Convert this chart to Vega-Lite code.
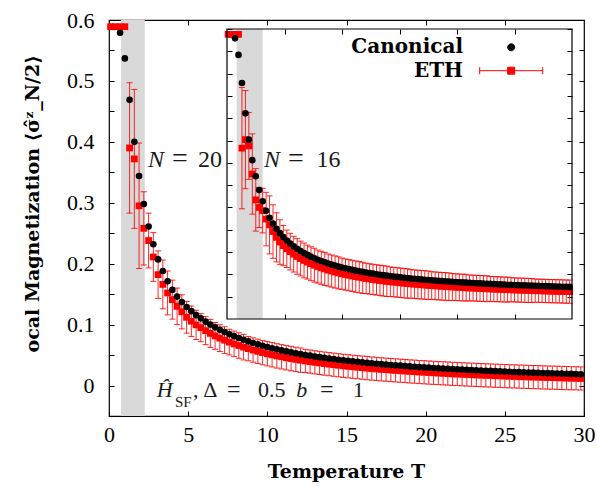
{
"$schema":"https://vega.github.io/schema/vega-lite/v6.json",
"width":475,"height":396,
"autosize":{"type":"none"},
"padding":{"left":109,"top":20,"right":13,"bottom":71},
"background":"white",
"config":{
 "font":"Liberation Serif, serif",
 "view":{"stroke":"black","strokeWidth":1.2},
 "axis":{"grid":false,"domain":false,"tickColor":"black","tickSize":-5,"tickWidth":1,"labelFont":"Liberation Serif, serif","titleFont":"DejaVu Serif, serif","labelFontSize":22,"labelColor":"black","titleColor":"black","labelFlush":false},
 "legend":{"labelFont":"DejaVu Serif, serif"},
 "text":{"font":"Liberation Serif","color":"#1a1a1a","baseline":"alphabetic"}
},
"datasets":{
"n20":[
{"T":0.1,"c":null,"e":0.589,"h":0},{"T":0.4,"c":null,"e":0.589,"h":0},{"T":0.7,"c":0.579,"e":0.589,"h":0},{"T":1.0,"c":0.537,"e":0.589,"h":0},
{"T":1.3,"c":0.469,"e":0.39,"h":0.107},{"T":1.6,"c":0.4,"e":0.372,"h":0.114},{"T":1.9,"c":0.344,"e":0.295,"h":0.103},{"T":2.2,"c":0.298,"e":0.258,"h":0.06},
{"T":2.5,"c":0.261,"e":0.238,"h":0.045},{"T":2.8,"c":0.232,"e":0.211,"h":0.04},{"T":3.1,"c":0.207,"e":0.182,"h":0.039},{"T":3.4,"c":0.188,"e":0.166,"h":0.04},
{"T":3.7,"c":0.171,"e":0.152,"h":0.036},{"T":4.0,"c":0.157,"e":0.141,"h":0.032},{"T":4.3,"c":0.146,"e":0.13,"h":0.03},{"T":4.6,"c":0.137,"e":0.121,"h":0.028},
{"T":4.9,"c":0.129,"e":0.112,"h":0.026},{"T":5.2,"c":0.1221,"e":0.1056,"h":0.025},{"T":5.5,"c":0.1155,"e":0.0996,"h":0.024},{"T":5.8,"c":0.1103,"e":0.095,"h":0.023},
{"T":6.1,"c":0.1049,"e":0.0901,"h":0.023},{"T":6.4,"c":0.1,"e":0.0856,"h":0.023},{"T":6.7,"c":0.0955,"e":0.0815,"h":0.022},{"T":7.0,"c":0.0914,"e":0.0778,"h":0.022},
{"T":7.3,"c":0.0877,"e":0.0745,"h":0.022},{"T":7.6,"c":0.0842,"e":0.0713,"h":0.021},{"T":7.9,"c":0.081,"e":0.0684,"h":0.021},{"T":8.2,"c":0.078,"e":0.0657,"h":0.021},
{"T":8.5,"c":0.0751,"e":0.063,"h":0.021},{"T":8.8,"c":0.0724,"e":0.0606,"h":0.02},{"T":9.1,"c":0.0699,"e":0.0583,"h":0.02},{"T":9.4,"c":0.0675,"e":0.0561,"h":0.02},
{"T":9.7,"c":0.0653,"e":0.0541,"h":0.02},{"T":10.0,"c":0.0632,"e":0.0522,"h":0.02},{"T":10.3,"c":0.0613,"e":0.0505,"h":0.02},{"T":10.6,"c":0.0594,"e":0.0487,"h":0.02},
{"T":10.9,"c":0.0577,"e":0.0472,"h":0.02},{"T":11.2,"c":0.056,"e":0.0456,"h":0.02},{"T":11.5,"c":0.0545,"e":0.0443,"h":0.02},{"T":11.8,"c":0.053,"e":0.0429,"h":0.02},
{"T":12.1,"c":0.0516,"e":0.0416,"h":0.02},{"T":12.4,"c":0.0502,"e":0.0404,"h":0.019},{"T":12.7,"c":0.049,"e":0.0393,"h":0.019},{"T":13.0,"c":0.0477,"e":0.0381,"h":0.019},
{"T":13.3,"c":0.0466,"e":0.0371,"h":0.019},{"T":13.6,"c":0.0454,"e":0.036,"h":0.019},{"T":13.9,"c":0.0444,"e":0.0351,"h":0.019},{"T":14.2,"c":0.0434,"e":0.0342,"h":0.019},
{"T":14.5,"c":0.0424,"e":0.0333,"h":0.019},{"T":14.8,"c":0.0415,"e":0.0324,"h":0.019},{"T":15.1,"c":0.0406,"e":0.0316,"h":0.019},{"T":15.4,"c":0.0397,"e":0.0308,"h":0.019},
{"T":15.7,"c":0.0389,"e":0.0301,"h":0.019},{"T":16.0,"c":0.0381,"e":0.0293,"h":0.019},{"T":16.3,"c":0.0373,"e":0.0286,"h":0.019},{"T":16.6,"c":0.0365,"e":0.0279,"h":0.019},
{"T":16.9,"c":0.0358,"e":0.0272,"h":0.019},{"T":17.2,"c":0.0351,"e":0.0266,"h":0.019},{"T":17.5,"c":0.0345,"e":0.0261,"h":0.019},{"T":17.8,"c":0.0338,"e":0.0254,"h":0.019},
{"T":18.1,"c":0.0332,"e":0.0249,"h":0.019},{"T":18.4,"c":0.0326,"e":0.0243,"h":0.019},{"T":18.7,"c":0.032,"e":0.0238,"h":0.019},{"T":19.0,"c":0.0314,"e":0.0232,"h":0.019},
{"T":19.3,"c":0.0309,"e":0.0228,"h":0.019},{"T":19.6,"c":0.0303,"e":0.0222,"h":0.019},{"T":19.9,"c":0.0298,"e":0.0218,"h":0.019},{"T":20.2,"c":0.0293,"e":0.0213,"h":0.019},
{"T":20.5,"c":0.0288,"e":0.0209,"h":0.019},{"T":20.8,"c":0.0284,"e":0.0205,"h":0.019},{"T":21.1,"c":0.0279,"e":0.0201,"h":0.019},{"T":21.4,"c":0.0275,"e":0.0197,"h":0.019},
{"T":21.7,"c":0.027,"e":0.0192,"h":0.019},{"T":22.0,"c":0.0266,"e":0.0189,"h":0.019},{"T":22.3,"c":0.0262,"e":0.0185,"h":0.019},{"T":22.6,"c":0.0258,"e":0.0181,"h":0.019},
{"T":22.9,"c":0.0254,"e":0.0178,"h":0.019},{"T":23.2,"c":0.025,"e":0.0174,"h":0.019},{"T":23.5,"c":0.0247,"e":0.0171,"h":0.019},{"T":23.8,"c":0.0243,"e":0.0168,"h":0.019},
{"T":24.1,"c":0.024,"e":0.0165,"h":0.019},{"T":24.4,"c":0.0236,"e":0.0161,"h":0.019},{"T":24.7,"c":0.0233,"e":0.0159,"h":0.019},{"T":25.0,"c":0.0229,"e":0.0155,"h":0.019},
{"T":25.3,"c":0.0226,"e":0.0152,"h":0.019},{"T":25.6,"c":0.0223,"e":0.015,"h":0.019},{"T":25.9,"c":0.022,"e":0.0147,"h":0.019},{"T":26.2,"c":0.0217,"e":0.0144,"h":0.019},
{"T":26.5,"c":0.0214,"e":0.0141,"h":0.019},{"T":26.8,"c":0.0211,"e":0.0139,"h":0.019},{"T":27.1,"c":0.0209,"e":0.0137,"h":0.019},{"T":27.4,"c":0.0206,"e":0.0134,"h":0.019},
{"T":27.7,"c":0.0203,"e":0.0131,"h":0.019},{"T":28.0,"c":0.0201,"e":0.013,"h":0.019},{"T":28.3,"c":0.0198,"e":0.0127,"h":0.019},{"T":28.6,"c":0.0196,"e":0.0125,"h":0.019},
{"T":28.9,"c":0.0193,"e":0.0122,"h":0.019},{"T":29.2,"c":0.0191,"e":0.012,"h":0.019},{"T":29.5,"c":0.0189,"e":0.0119,"h":0.019},{"T":29.8,"c":0.0186,"e":0.0116,"h":0.019}
],
"n16":[
{"T":0.1,"c":null,"e":0.588,"h":0},{"T":0.4,"c":null,"e":0.588,"h":0},{"T":0.7,"c":0.579,"e":0.588,"h":0},{"T":1.0,"c":0.542,"e":0.588,"h":0},
{"T":1.3,"c":0.479,"e":0.333,"h":0.136},{"T":1.6,"c":0.411,"e":0.352,"h":0.11},{"T":1.9,"c":0.352,"e":0.338,"h":0.075},{"T":2.2,"c":0.306,"e":0.275,"h":0.09},
{"T":2.5,"c":0.27,"e":0.217,"h":0.07},{"T":2.8,"c":0.239,"e":0.2,"h":0.045},{"T":3.1,"c":0.214,"e":0.193,"h":0.05},{"T":3.4,"c":0.1926,"e":0.174,"h":0.06},
{"T":3.7,"c":0.177,"e":0.161,"h":0.065},{"T":4.0,"c":0.1638,"e":0.146,"h":0.06},{"T":4.3,"c":0.1523,"e":0.133,"h":0.055},{"T":4.6,"c":0.1424,"e":0.1225,"h":0.05},
{"T":4.9,"c":0.1337,"e":0.1145,"h":0.045},{"T":5.2,"c":0.126,"e":0.1074,"h":0.042},{"T":5.5,"c":0.1191,"e":0.101,"h":0.041},{"T":5.8,"c":0.1129,"e":0.0953,"h":0.04},
{"T":6.1,"c":0.1074,"e":0.0902,"h":0.04},{"T":6.4,"c":0.1023,"e":0.0855,"h":0.039},{"T":6.7,"c":0.0978,"e":0.0813,"h":0.039},{"T":7.0,"c":0.0936,"e":0.0775,"h":0.038},
{"T":7.3,"c":0.0897,"e":0.0739,"h":0.038},{"T":7.6,"c":0.0862,"e":0.0706,"h":0.038},{"T":7.9,"c":0.0829,"e":0.0676,"h":0.037},{"T":8.2,"c":0.0799,"e":0.0648,"h":0.037},
{"T":8.5,"c":0.0771,"e":0.0622,"h":0.037},{"T":8.8,"c":0.0744,"e":0.0597,"h":0.036},{"T":9.1,"c":0.072,"e":0.0575,"h":0.036},{"T":9.4,"c":0.0697,"e":0.0554,"h":0.036},
{"T":9.7,"c":0.0675,"e":0.0533,"h":0.036},{"T":10.0,"c":0.0655,"e":0.0515,"h":0.035},{"T":10.3,"c":0.0636,"e":0.0497,"h":0.035},{"T":10.6,"c":0.0618,"e":0.0481,"h":0.035},
{"T":10.9,"c":0.0601,"e":0.0465,"h":0.035},{"T":11.2,"c":0.0585,"e":0.045,"h":0.035},{"T":11.5,"c":0.057,"e":0.0437,"h":0.035},{"T":11.8,"c":0.0555,"e":0.0423,"h":0.035},
{"T":12.1,"c":0.0541,"e":0.041,"h":0.034},{"T":12.4,"c":0.0528,"e":0.0398,"h":0.034},{"T":12.7,"c":0.0516,"e":0.0387,"h":0.034},{"T":13.0,"c":0.0504,"e":0.0376,"h":0.034},
{"T":13.3,"c":0.0492,"e":0.0364,"h":0.034},{"T":13.6,"c":0.0482,"e":0.0355,"h":0.034},{"T":13.9,"c":0.0471,"e":0.0345,"h":0.034},{"T":14.2,"c":0.0461,"e":0.0336,"h":0.033},
{"T":14.5,"c":0.0452,"e":0.0328,"h":0.033},{"T":14.8,"c":0.0443,"e":0.0319,"h":0.033},{"T":15.1,"c":0.0434,"e":0.0311,"h":0.033},{"T":15.4,"c":0.0425,"e":0.0303,"h":0.033},
{"T":15.7,"c":0.0417,"e":0.0295,"h":0.033},{"T":16.0,"c":0.0409,"e":0.0288,"h":0.032},{"T":16.3,"c":0.0402,"e":0.0281,"h":0.032},{"T":16.6,"c":0.0395,"e":0.0275,"h":0.032},
{"T":16.9,"c":0.0388,"e":0.0268,"h":0.032},{"T":17.2,"c":0.0381,"e":0.0262,"h":0.032},{"T":17.5,"c":0.0374,"e":0.0255,"h":0.032},{"T":17.8,"c":0.0368,"e":0.025,"h":0.031},
{"T":18.1,"c":0.0362,"e":0.0244,"h":0.031},{"T":18.4,"c":0.0356,"e":0.0239,"h":0.031},{"T":18.7,"c":0.035,"e":0.0233,"h":0.031},{"T":19.0,"c":0.0345,"e":0.0229,"h":0.031},
{"T":19.3,"c":0.0339,"e":0.0223,"h":0.031},{"T":19.6,"c":0.0334,"e":0.0218,"h":0.03},{"T":19.9,"c":0.0329,"e":0.0214,"h":0.03},{"T":20.2,"c":0.0324,"e":0.0209,"h":0.03},
{"T":20.5,"c":0.032,"e":0.0206,"h":0.03},{"T":20.8,"c":0.0315,"e":0.0201,"h":0.03},{"T":21.1,"c":0.031,"e":0.0196,"h":0.029},{"T":21.4,"c":0.0306,"e":0.0193,"h":0.029},
{"T":21.7,"c":0.0302,"e":0.0189,"h":0.029},{"T":22.0,"c":0.0298,"e":0.0185,"h":0.029},{"T":22.3,"c":0.0294,"e":0.0182,"h":0.029},{"T":22.6,"c":0.029,"e":0.0178,"h":0.029},
{"T":22.9,"c":0.0286,"e":0.0174,"h":0.028},{"T":23.2,"c":0.0282,"e":0.017,"h":0.028},{"T":23.5,"c":0.0279,"e":0.0168,"h":0.028},{"T":23.8,"c":0.0275,"e":0.0164,"h":0.028},
{"T":24.1,"c":0.0272,"e":0.0161,"h":0.028},{"T":24.4,"c":0.0268,"e":0.0158,"h":0.028},{"T":24.7,"c":0.0265,"e":0.0155,"h":0.027},{"T":25.0,"c":0.0262,"e":0.0152,"h":0.027},
{"T":25.3,"c":0.0259,"e":0.0149,"h":0.027},{"T":25.6,"c":0.0256,"e":0.0146,"h":0.027},{"T":25.9,"c":0.0253,"e":0.0144,"h":0.027},{"T":26.2,"c":0.025,"e":0.0141,"h":0.027},
{"T":26.5,"c":0.0247,"e":0.0138,"h":0.027},{"T":26.8,"c":0.0244,"e":0.0135,"h":0.026},{"T":27.1,"c":0.0242,"e":0.0134,"h":0.026},{"T":27.4,"c":0.0239,"e":0.0131,"h":0.026},
{"T":27.7,"c":0.0236,"e":0.0128,"h":0.026},{"T":28.0,"c":0.0234,"e":0.0126,"h":0.026},{"T":28.3,"c":0.0231,"e":0.0123,"h":0.026},{"T":28.6,"c":0.0229,"e":0.0122,"h":0.026},
{"T":28.9,"c":0.0227,"e":0.012,"h":0.026},{"T":29.2,"c":0.0224,"e":0.0117,"h":0.026},{"T":29.5,"c":0.0222,"e":0.0115,"h":0.026},{"T":29.8,"c":0.022,"e":0.0113,"h":0.026}
]
},
"layer":[
  {"data":{"values":[{}]},"mark":{"type":"rect","color":"#d9d9d9"},
   "encoding":{
    "x":{"datum":0.76,"type":"quantitative","scale":{"domain":[0,30],"nice":false,"zero":false},
      "axis":{"orient":"bottom","values":[0,5,10,15,20,25,30],"format":"d","labelFont":"Liberation Serif, serif","labelPadding":13,"title":"Temperature T","titleFont":"DejaVu Serif, serif","titleFontWeight":"bold","titleFontSize":19,"titleX":237,"titleY":61,"titleBaseline":"alphabetic","titleAlign":"center"}},
    "x2":{"datum":2.26},
    "y":{"datum":-0.05,"type":"quantitative","scale":{"domain":[-0.05,0.6],"nice":false,"zero":false},
      "axis":{"orient":"left","values":[0,0.05,0.1,0.15,0.2,0.25,0.3,0.35,0.4,0.45,0.5,0.55,0.6],"labelExpr":"round(datum.value*100) % 10 == 0 ? format(datum.value, '.1~f') : ''","labelFont":"Liberation Serif, serif","labelPadding":20,"title":"ocal Magnetization ⟨σ̂ᶻ_N/2⟩","titleFont":"DejaVu Serif, serif","titleFontWeight":"bold","titleFontSize":19,"titleAngle":270,"titleAlign":"left","titleBaseline":"alphabetic","titleX":-71,"titleY":332}},
    "y2":{"datum":0.6}}},
  {"data":{"values":[{}]},"mark":{"type":"point","opacity":0},
   "encoding":{
    "x":{"datum":1,"type":"quantitative","scale":{"domain":[0,30],"nice":false,"zero":false},"axis":{"orient":"top","values":[5,10,15,20,25],"labels":false,"title":null}},
    "y":{"datum":0.1,"type":"quantitative","scale":{"domain":[-0.05,0.6],"nice":false,"zero":false},"axis":{"orient":"right","values":[0,0.05,0.1,0.15,0.2,0.25,0.3,0.35,0.4,0.45,0.5,0.55,0.6],"labels":false,"title":null}}}},
  {"data":{"name":"n20"},"mark":{"type":"errorbar","ticks":true,"size":6,"thickness":1,"color":"#ff0000","opacity":0.85},
   "encoding":{
    "x":{"field":"T","type":"quantitative","scale":{"domain":[0,30],"nice":false,"zero":false},"axis":null},
    "y":{"field":"e","type":"quantitative","scale":{"domain":[-0.05,0.6],"nice":false,"zero":false},"axis":null},
    "yError":{"field":"h"}}},
  {"data":{"name":"n20"},"mark":{"type":"point","shape":"square","filled":true,"size":46,"opacity":1},
   "encoding":{
    "x":{"field":"T","type":"quantitative","scale":{"domain":[0,30],"nice":false,"zero":false},"axis":null},
    "y":{"field":"e","type":"quantitative","scale":{"domain":[-0.05,0.6],"nice":false,"zero":false},"axis":null},
    "color":{"datum":"ETH","type":"nominal","scale":{"domain":["Canonical","ETH"],"range":["#000000","#ff0000"]},
      "legend":{"orient":"none","legendX":392.2,"legendY":17.3,"title":null,"padding":0,"symbolSize":100,"symbolStrokeWidth":1,"rowPadding":3.4,
        "labelFont":"DejaVu Serif, serif","labelFontWeight":"bold","labelFontSize":20,"labelColor":"black","labelAlign":"right","labelOffset":-58.2,
        "encoding":{"symbols":{
          "shape":{"value":{"expr":"datum.value === 'ETH' ? 'M-6.3,0H6.3M-6.3,-0.7V0.7M6.3,-0.7V0.7M-0.7,-0.7H0.7V0.7H-0.7Z' : 'M-0.7,0A0.7,0.7,0,1,1,0.7,0A0.7,0.7,0,1,1,-0.7,0Z'"}},
          "fill":{"value":{"expr":"datum.value === 'ETH' ? '#ff0000' : '#000000'"}},
          "stroke":{"value":{"expr":"datum.value === 'ETH' ? '#ff0000' : '#000000'"}},
          "strokeWidth":{"value":1},"opacity":{"value":1}}}}}}},
  {"data":{"name":"n20"},"mark":{"type":"point","shape":"circle","filled":true,"size":44,"opacity":1},
   "encoding":{
    "x":{"field":"T","type":"quantitative","scale":{"domain":[0,30],"nice":false,"zero":false},"axis":null},
    "y":{"field":"c","type":"quantitative","scale":{"domain":[-0.05,0.6],"nice":false,"zero":false},"axis":null},
    "color":{"datum":"Canonical","type":"nominal","scale":{"domain":["Canonical","ETH"],"range":["#000000","#ff0000"]},
      "legend":{"orient":"none","legendX":392.2,"legendY":17.3,"title":null,"padding":0,"symbolSize":100,"symbolStrokeWidth":1,"rowPadding":3.4,
        "labelFont":"DejaVu Serif, serif","labelFontWeight":"bold","labelFontSize":20,"labelColor":"black","labelAlign":"right","labelOffset":-58.2,
        "encoding":{"symbols":{
          "shape":{"value":{"expr":"datum.value === 'ETH' ? 'M-6.3,0H6.3M-6.3,-0.7V0.7M6.3,-0.7V0.7M-0.7,-0.7H0.7V0.7H-0.7Z' : 'M-0.7,0A0.7,0.7,0,1,1,0.7,0A0.7,0.7,0,1,1,-0.7,0Z'"}},
          "fill":{"value":{"expr":"datum.value === 'ETH' ? '#ff0000' : '#000000'"}},
          "stroke":{"value":{"expr":"datum.value === 'ETH' ? '#ff0000' : '#000000'"}},
          "strokeWidth":{"value":1},"opacity":{"value":1}}}}}}},
  {"data":{"values":[{}]},"mark":{"type":"text","text":"N","fontStyle":"italic","fontSize":24,"align":"left"},
   "encoding":{"x":{"datum":2.46,"type":"quantitative","scale":{"domain":[0,30],"nice":false,"zero":false},"axis":null},"y":{"datum":0.3587,"type":"quantitative","scale":{"domain":[-0.05,0.6],"nice":false,"zero":false},"axis":null}}},
  {"data":{"values":[{}]},"mark":{"type":"text","text":"=","fontSize":28,"align":"center"},
   "encoding":{"x":{"datum":4.48,"type":"quantitative","scale":{"domain":[0,30],"nice":false,"zero":false},"axis":null},"y":{"datum":0.3587,"type":"quantitative","scale":{"domain":[-0.05,0.6],"nice":false,"zero":false},"axis":null}}},
  {"data":{"values":[{}]},"mark":{"type":"text","text":"20","fontSize":24,"align":"right"},
   "encoding":{"x":{"datum":7.14,"type":"quantitative","scale":{"domain":[0,30],"nice":false,"zero":false},"axis":null},"y":{"datum":0.3587,"type":"quantitative","scale":{"domain":[-0.05,0.6],"nice":false,"zero":false},"axis":null}}},
  {"data":{"values":[{}]},"mark":{"type":"text","text":"Ĥ","fontStyle":"italic","fontSize":22,"align":"left"},
   "encoding":{"x":{"datum":3.01,"type":"quantitative","scale":{"domain":[0,30],"nice":false,"zero":false},"axis":null},"y":{"datum":-0.0183,"type":"quantitative","scale":{"domain":[-0.05,0.6],"nice":false,"zero":false},"axis":null}}},
  {"data":{"values":[{}]},"mark":{"type":"text","text":"SF","fontSize":15,"align":"left"},
   "encoding":{"x":{"datum":4.17,"type":"quantitative","scale":{"domain":[0,30],"nice":false,"zero":false},"axis":null},"y":{"datum":-0.0346,"type":"quantitative","scale":{"domain":[-0.05,0.6],"nice":false,"zero":false},"axis":null}}},
  {"data":{"values":[{}]},"mark":{"type":"text","text":",","fontSize":22,"align":"left"},
   "encoding":{"x":{"datum":5.3,"type":"quantitative","scale":{"domain":[0,30],"nice":false,"zero":false},"axis":null},"y":{"datum":-0.0183,"type":"quantitative","scale":{"domain":[-0.05,0.6],"nice":false,"zero":false},"axis":null}}},
  {"data":{"values":[{}]},"mark":{"type":"text","text":"Δ","fontSize":22,"align":"center"},
   "encoding":{"x":{"datum":6.4,"type":"quantitative","scale":{"domain":[0,30],"nice":false,"zero":false},"axis":null},"y":{"datum":-0.0183,"type":"quantitative","scale":{"domain":[-0.05,0.6],"nice":false,"zero":false},"axis":null}}},
  {"data":{"values":[{}]},"mark":{"type":"text","text":"=","fontSize":24,"align":"center"},
   "encoding":{"x":{"datum":7.88,"type":"quantitative","scale":{"domain":[0,30],"nice":false,"zero":false},"axis":null},"y":{"datum":-0.0183,"type":"quantitative","scale":{"domain":[-0.05,0.6],"nice":false,"zero":false},"axis":null}}},
  {"data":{"values":[{}]},"mark":{"type":"text","text":"0.5","fontSize":22,"align":"center"},
   "encoding":{"x":{"datum":10.28,"type":"quantitative","scale":{"domain":[0,30],"nice":false,"zero":false},"axis":null},"y":{"datum":-0.0183,"type":"quantitative","scale":{"domain":[-0.05,0.6],"nice":false,"zero":false},"axis":null}}},
  {"data":{"values":[{}]},"mark":{"type":"text","text":"b","fontStyle":"italic","fontSize":22,"align":"center"},
   "encoding":{"x":{"datum":12.17,"type":"quantitative","scale":{"domain":[0,30],"nice":false,"zero":false},"axis":null},"y":{"datum":-0.0183,"type":"quantitative","scale":{"domain":[-0.05,0.6],"nice":false,"zero":false},"axis":null}}},
  {"data":{"values":[{}]},"mark":{"type":"text","text":"=","fontSize":24,"align":"center"},
   "encoding":{"x":{"datum":13.75,"type":"quantitative","scale":{"domain":[0,30],"nice":false,"zero":false},"axis":null},"y":{"datum":-0.0183,"type":"quantitative","scale":{"domain":[-0.05,0.6],"nice":false,"zero":false},"axis":null}}},
  {"data":{"values":[{}]},"mark":{"type":"text","text":"1","fontSize":22,"align":"center"},
   "encoding":{"x":{"datum":15.75,"type":"quantitative","scale":{"domain":[0,30],"nice":false,"zero":false},"axis":null},"y":{"datum":-0.0183,"type":"quantitative","scale":{"domain":[-0.05,0.6],"nice":false,"zero":false},"axis":null}}},
  {"data":{"values":[{}]},"mark":{"type":"rect","color":"#d9d9d9"},
   "encoding":{
    "x":{"datum":0.84,"type":"quantitative","scale":{"domain":[0,30],"nice":false,"zero":false,"range":[118,463]},
      "axis":{"orient":"bottom","offset":-97,"values":[5,10,15,20,25],"labels":false,"title":null}},
    "x2":{"datum":3.1},
    "y":{"datum":-0.05,"type":"quantitative","scale":{"domain":[-0.05,0.6],"nice":false,"zero":false,"range":[299,9]},
      "axis":{"orient":"left","offset":-118,"values":[0,0.05,0.1,0.15,0.2,0.25,0.3,0.35,0.4,0.45,0.5,0.55,0.6],"labels":false,"title":null}},
    "y2":{"datum":0.6}}},
  {"data":{"values":[{}]},"mark":{"type":"point","opacity":0},
   "encoding":{
    "x":{"datum":1,"type":"quantitative","scale":{"domain":[0,30],"nice":false,"zero":false,"range":[118,463]},"axis":{"orient":"top","offset":-9,"values":[5,10,15,20,25],"labels":false,"title":null}},
    "y":{"datum":0.1,"type":"quantitative","scale":{"domain":[-0.05,0.6],"nice":false,"zero":false,"range":[299,9]},"axis":{"orient":"right","offset":-12,"values":[0,0.05,0.1,0.15,0.2,0.25,0.3,0.35,0.4,0.45,0.5,0.55,0.6],"labels":false,"title":null}}}},
  {"data":{"name":"n16"},"mark":{"type":"errorbar","ticks":true,"size":6,"thickness":1,"color":"#ff0000","opacity":0.85},
   "encoding":{
    "x":{"field":"T","type":"quantitative","scale":{"domain":[0,30],"nice":false,"zero":false,"range":[118,463]},"axis":null},
    "y":{"field":"e","type":"quantitative","scale":{"domain":[-0.05,0.6],"nice":false,"zero":false,"range":[299,9]},"axis":null},
    "yError":{"field":"h"}}},
  {"data":{"name":"n16"},"mark":{"type":"point","shape":"square","filled":true,"size":46,"opacity":1,"color":"#ff0000"},
   "encoding":{
    "x":{"field":"T","type":"quantitative","scale":{"domain":[0,30],"nice":false,"zero":false,"range":[118,463]},"axis":null},
    "y":{"field":"e","type":"quantitative","scale":{"domain":[-0.05,0.6],"nice":false,"zero":false,"range":[299,9]},"axis":null}}},
  {"data":{"name":"n16"},"mark":{"type":"point","shape":"circle","filled":true,"size":44,"opacity":1,"color":"#000000"},
   "encoding":{
    "x":{"field":"T","type":"quantitative","scale":{"domain":[0,30],"nice":false,"zero":false,"range":[118,463]},"axis":null},
    "y":{"field":"c","type":"quantitative","scale":{"domain":[-0.05,0.6],"nice":false,"zero":false,"range":[299,9]},"axis":null}}},
  {"data":{"values":[{}]},"mark":{"type":"text","text":"N","fontStyle":"italic","fontSize":24,"align":"left"},
   "encoding":{"x":{"datum":3.22,"type":"quantitative","scale":{"domain":[0,30],"nice":false,"zero":false,"range":[118,463]},"axis":null},"y":{"datum":0.2914,"type":"quantitative","scale":{"domain":[-0.05,0.6],"nice":false,"zero":false,"range":[299,9]},"axis":null}}},
  {"data":{"values":[{}]},"mark":{"type":"text","text":"=","fontSize":28,"align":"center"},
   "encoding":{"x":{"datum":6.0,"type":"quantitative","scale":{"domain":[0,30],"nice":false,"zero":false,"range":[118,463]},"axis":null},"y":{"datum":0.2914,"type":"quantitative","scale":{"domain":[-0.05,0.6],"nice":false,"zero":false,"range":[299,9]},"axis":null}}},
  {"data":{"values":[{}]},"mark":{"type":"text","text":"16","fontSize":24,"align":"right"},
   "encoding":{"x":{"datum":9.87,"type":"quantitative","scale":{"domain":[0,30],"nice":false,"zero":false,"range":[118,463]},"axis":null},"y":{"datum":0.2914,"type":"quantitative","scale":{"domain":[-0.05,0.6],"nice":false,"zero":false,"range":[299,9]},"axis":null}}},
  {"data":{"values":[{}]},"mark":{"type":"rect","filled":false,"stroke":"black","strokeWidth":1.2},
   "encoding":{
    "x":{"datum":0,"type":"quantitative","scale":{"domain":[0,30],"nice":false,"zero":false,"range":[118,463]},"axis":null},
    "x2":{"datum":30},
    "y":{"datum":-0.05,"type":"quantitative","scale":{"domain":[-0.05,0.6],"nice":false,"zero":false,"range":[299,9]},"axis":null},
    "y2":{"datum":0.6}}}
],
"resolve":{"scale":{"x":"independent","y":"independent"},"axis":{"x":"independent","y":"independent"}}
}
